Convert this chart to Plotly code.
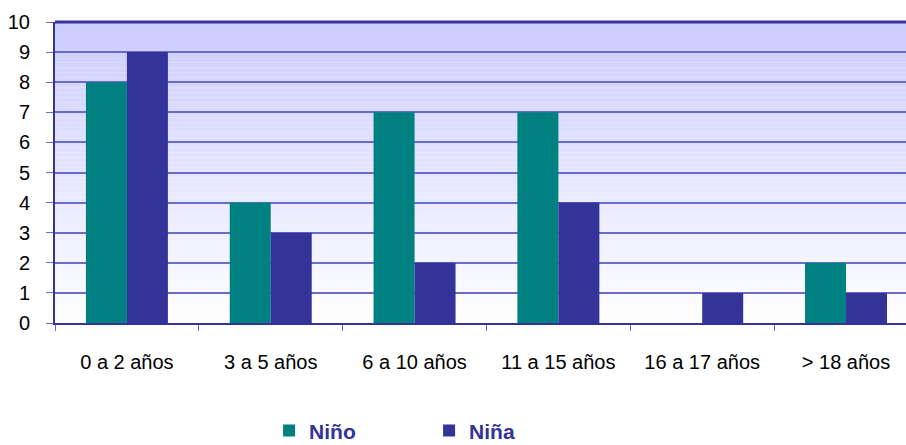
import plotly.graph_objects as go

categories = ["0 a 2 años", "3 a 5 años", "6 a 10 años", "11 a 15 años", "16 a 17 años", "> 18 años"]
nino = [8, 4, 7, 7, 0, 2]
nina = [9, 3, 2, 4, 1, 1]

NAVY = "#333399"
TEAL = "#008080"
GRID = "#6b6bcc"

fig = go.Figure()
fig.add_trace(go.Bar(x=categories, y=nino, name="<b>Niño</b>", marker=dict(color=TEAL, line=dict(width=0))))
fig.add_trace(go.Bar(x=categories, y=nina, name="<b>Niña</b>", marker=dict(color=NAVY, line=dict(width=0))))

# lavender-to-white gradient behind the plot area
n = 60
shapes = []
for i in range(n):
    t = (i + 0.5) / n
    r = int(255 - (255 - 204) * t)
    g = int(255 - (255 - 204) * t)
    shapes.append(dict(
        type="rect", xref="paper", yref="paper",
        x0=0, x1=1, y0=i / n, y1=(i + 1) / n,
        fillcolor=f"rgb({r},{g},255)", line=dict(width=0), layer="below",
    ))

fig.update_layout(
    width=906, height=445,
    margin=dict(l=55, r=0, t=22, b=122, autoexpand=False),
    paper_bgcolor="white",
    plot_bgcolor="white",
    barmode="group",
    bargap=0.43,
    bargroupgap=0,
    shapes=shapes,
    font=dict(family="Liberation Sans, Arial", size=20, color="black"),
    showlegend=True,
    legend=dict(
        orientation="h", xref="container", x=0.297, xanchor="left",
        yref="container", y=0.032, yanchor="middle",
        font=dict(size=21, color=NAVY, family="Liberation Sans, Arial"),
        entrywidth=115, entrywidthmode="pixels", itemsizing="constant",
    ),
    xaxis=dict(
        range=[-0.5, 5.417],
        showline=True, linecolor=NAVY, linewidth=2,
        ticks="outside", tickson="boundaries", ticklen=6, tickcolor=GRID,
        showgrid=False, ticklabelstandoff=20,
    ),
    yaxis=dict(
        range=[0, 10], dtick=1,
        showline=True, linecolor=NAVY, linewidth=2, mirror=False,
        ticks="outside", ticklen=7, tickcolor=GRID,
        gridcolor=GRID, gridwidth=1.5,
        ticklabelstandoff=12,
        zeroline=False,
    ),
)

# top border of the plot area
fig.add_shape(type="line", xref="paper", yref="paper", x0=0, x1=1, y0=1, y1=1,
              line=dict(color=NAVY, width=3))

fig.write_html("out.html", config={"displayModeBar": False},
               post_script="document.body.style.margin='0';")
